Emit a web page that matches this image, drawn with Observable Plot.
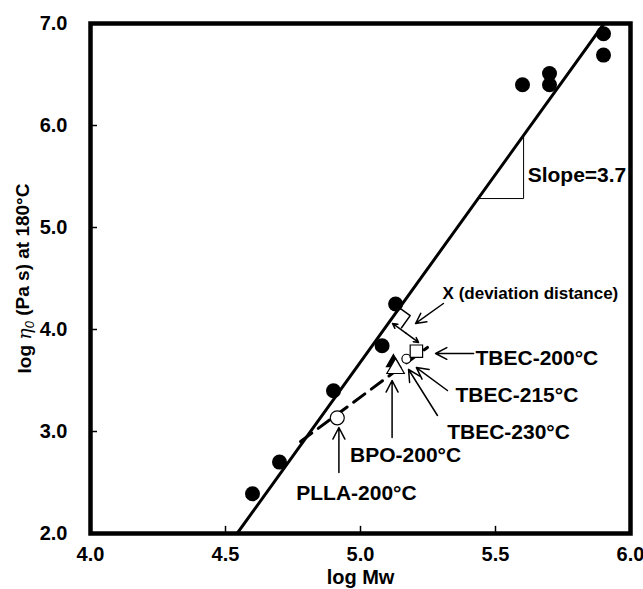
<!DOCTYPE html>
<html><head><meta charset="utf-8">
<script src="https://cdn.jsdelivr.net/npm/d3@7"></script>
<script src="https://cdn.jsdelivr.net/npm/@observablehq/plot@0.6"></script>
<style>
body{margin:0;background:#fff;}
#chart svg{font-family:"Liberation Sans",Arial,Helvetica,sans-serif;}
</style>
</head><body><div id="chart"></div>
<script>
// Reference data (filled circles)
const logMw  = [4.60, 4.70, 4.90, 5.08, 5.13, 5.60, 5.70, 5.70, 5.90, 5.90];
const logEta = [2.39, 2.70, 3.40, 3.84, 4.25, 6.40, 6.40, 6.51, 6.90, 6.69];

// Modified samples (open markers)
const sampleNames  = ["PLLA-200°C", "TBEC-230°C", "BPO-200°C", "TBEC-215°C", "TBEC-200°C"];
const sampleMw     = [4.914, 5.122, 5.130, 5.170, 5.207];
const sampleEta    = [3.134, 3.676, 3.618, 3.713, 3.787];
const sampleSymbol = ["circle", "triangle", "triangle", "circle", "square"];

// Fitted line (slope 3.7) and trend of modified samples
const fitMw   = [4.543, 5.902];
const fitEta  = [2.0, 7.0];
const trendMw  = [4.778, 5.248];
const trendEta = [2.902, 3.824];

// Ticks
const xTicks = [4.0, 4.5, 5.0, 5.5, 6.0];
const yTicks = [2.0, 3.0, 4.0, 5.0, 6.0, 7.0];
const xInner = [4.5, 5.0, 5.5];
const yInner = [3.0, 4.0, 5.0, 6.0];

// Annotations
const labelTexts = ["X (deviation distance)", "TBEC-200°C", "TBEC-215°C", "TBEC-230°C"];
const labelX = [5.304, 5.426, 5.352, 5.321];
const labelY = [4.353, 3.716, 3.353, 2.993];
const labelSize = [17, 21, 21, 21];
const centerTexts = ["BPO-200°C", "PLLA-200°C"];
const centerX = [5.167, 4.985];
const centerY = [2.765, 2.392];

const arrowX1 = [5.307, 5.419, 5.322, 5.285, 5.117, 4.920, 5.167, 5.167];
const arrowY1 = [4.255, 3.765, 3.402, 3.157, 2.941, 2.598, 3.966, 3.966];
const arrowX2 = [5.204, 5.278, 5.207, 5.178, 5.117, 4.920, 5.1185, 5.215];
const arrowY2 = [4.059, 3.765, 3.627, 3.608, 3.500, 3.039, 4.059, 3.873];

const slopeTriX = [5.436, 5.604, 5.604];
const slopeTriY = [5.284, 5.284, 5.900];
const rightAngleX = [5.139, 5.184, 5.152];
const rightAngleY = [4.222, 4.136, 4.017];

const pts = logMw.map((x, i) => ({x, y: logEta[i]}));
const samples = sampleNames.map((n, i) => ({name: n, x: sampleMw[i], y: sampleEta[i], symbol: sampleSymbol[i]}));
const fit = fitMw.map((x, i) => ({x, y: fitEta[i]}));
const trend = trendMw.map((x, i) => ({x, y: trendEta[i]}));
const labels = labelTexts.map((t, i) => ({t, x: labelX[i], y: labelY[i], s: labelSize[i]}));
const centers = centerTexts.map((t, i) => ({t, x: centerX[i], y: centerY[i]}));
const arrows = arrowX1.map((x1, i) => ({x1, y1: arrowY1[i], x2: arrowX2[i], y2: arrowY2[i]}));
const tri = slopeTriX.map((x, i) => ({x, y: slopeTriY[i]}));
const ra = rightAngleX.map((x, i) => ({x, y: rightAngleY[i]}));

const fmt = d3.format(".1f");
const bold = {fontWeight: "bold"};

const chart = Plot.plot({
  width: 643, height: 589,
  marginLeft: 90, marginRight: 13, marginTop: 23, marginBottom: 56,
  x: {domain: [4, 6]},
  y: {domain: [2, 7]},
  style: {fontFamily: '"Liberation Sans", Arial, sans-serif', color: "black", background: "white"},
  marks: [
    Plot.axisX({ticks: xTicks, tickFormat: fmt, tickSize: 0, tickPadding: 13, fontSize: 20, fontWeight: "bold", label: null}),
    Plot.axisY({ticks: yTicks, tickFormat: fmt, tickSize: 0, tickPadding: 23, fontSize: 20, fontWeight: "bold", label: null}),
    Plot.ruleX(xInner, {x: d => d, y1: 2, y2: 2.07, strokeWidth: 1.5}),
    Plot.ruleY(yInner, {y: d => d, x1: 4, x2: 4.026, strokeWidth: 1.5}),
    Plot.line(fit, {x: "x", y: "y", strokeWidth: 3, clip: true}),
    Plot.line(trend, {x: "x", y: "y", strokeWidth: 3, strokeDasharray: "14,8"}),
    Plot.line(tri, {x: "x", y: "y", strokeWidth: 1}),
    Plot.line(ra, {x: "x", y: "y", strokeWidth: 1.5}),
    Plot.dot(pts, {x: "x", y: "y", r: 7.5, fill: "black"}),
    Plot.dot(samples.filter(d => d.name === "TBEC-230°C"), {x: "x", y: "y", symbol: "symbol", r: 5, fill: "black", stroke: "black"}),
    Plot.dot(samples.filter(d => d.name === "BPO-200°C"), {x: "x", y: "y", symbol: "symbol", r: 6.5, fill: "white", stroke: "black", strokeWidth: 1.2}),
    Plot.dot(samples.filter(d => d.name === "TBEC-215°C"), {x: "x", y: "y", symbol: "symbol", r: 4.5, fill: "white", stroke: "black", strokeWidth: 1.2}),
    Plot.dot(samples.filter(d => d.name === "TBEC-200°C"), {x: "x", y: "y", symbol: "symbol", r: 7, fill: "white", stroke: "black", strokeWidth: 1.2}),
    Plot.dot(samples.filter(d => d.name === "PLLA-200°C"), {x: "x", y: "y", symbol: "symbol", r: 7, fill: "white", stroke: "black", strokeWidth: 1.2}),
    Plot.arrow(arrows, {x1: "x1", y1: "y1", x2: "x2", y2: "y2", headLength: 13, headAngle: 55, strokeWidth: 1.5}),
    Plot.text(labels, {x: "x", y: "y", text: "t", fontSize: "s", textAnchor: "start", ...bold}),
    Plot.text(centers, {x: "x", y: "y", text: "t", fontSize: 21, textAnchor: "middle", ...bold}),
    Plot.text(["Slope=3.7"], {x: 5.619, y: 5.51, text: d => d, fontSize: 21, textAnchor: "start", ...bold}),
    Plot.text(["log Mw"], {frameAnchor: "bottom", dy: 50, text: d => d, fontSize: 20, ...bold}),
    Plot.text(["log η0 (Pa s) at 180°C"], {frameAnchor: "left", dx: -66, rotate: -90, textAnchor: "middle", text: d => d, fontSize: 19, ...bold}),
    Plot.frame({strokeWidth: 4.5})
  ]
});
document.getElementById("chart").appendChild(chart);

// Typeset the y-axis title: italic eta with subscript zero
d3.select(chart).selectAll("text").each(function() {
  if (this.textContent === "log η0 (Pa s) at 180°C") {
    const t = d3.select(this);
    t.text(null);
    t.append("tspan").text("log ");
    t.append("tspan").style("font-style", "italic").style("font-weight", "normal").style("font-family", '"DejaVu Serif", serif').text("η");
    t.append("tspan").attr("dy", "0.3em").style("font-size", "13px").style("font-style", "italic").style("font-weight", "normal").text("0");
    t.append("tspan").attr("dy", "-0.3em").text(" (Pa s) at 180°C");
  }
});
</script>
</body></html>
